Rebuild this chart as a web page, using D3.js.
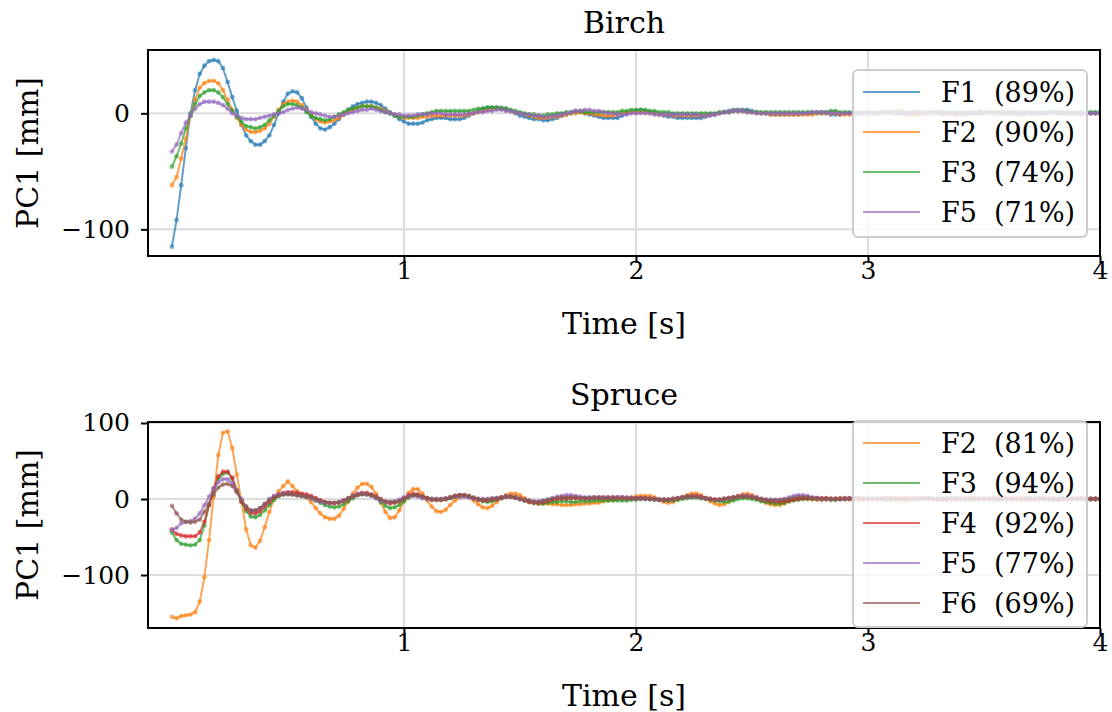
<!DOCTYPE html>
<html>
<head>
<meta charset="utf-8">
<script src="https://cdn.jsdelivr.net/npm/d3@7"></script>
<style>
body { margin: 0; background: #fff; }
text { font-family: "DejaVu Serif", serif; fill: #000; }
</style>
</head>
<body>
<div id="viz"></div>
<script>
// sample times, 50 Hz
var time = d3.range(201).map(function(i) { return i / 50; });

var xTicks = [1, 2, 3, 4];
var birchTicks = [0, -100];
var spruceTicks = [100, 0, -100];

// Birch, PC1 [mm]
var birchF1 = [
  -115,-92,-62,-30,0,20,34,41,45,46,
  45,39,27,14,2,-10,-19,-24,-27,-27,
  -24,-19,-10,0,10,17,19,18,13,5,
  -3,-9,-13,-14,-12,-9,-5,-1,3,6,
  8,9,10,10,9,7,4,1,-2,-5,
  -7,-9,-9,-9,-8,-6,-5,-4,-4,-4,
  -5,-5,-5,-4,-2,0,2,4,5,5,
  5,5,4,2,0,-2,-3,-4,-5,-5,
  -6,-6,-5,-4,-2,-1,0,1,1,0,
  -1,-2,-3,-4,-4,-4,-4,-2,0,1,
  2,3,2,1,0,-1,-2,-3,-3,-4,
  -4,-4,-4,-4,-4,-3,-2,-1,0,1,
  2,3,3,3,3,2,1,0,0,-1,
  -1,-1,-1,-1,-1,-1,0,0,0,0,
  0,0,-1,-1,-1,0,0,0,0,0,
  0,0,0,1,1,1,0,0,-1,-1,
  -1,0,0,0,1,1,0,0,0,-1,
  -1,-1,0,0,0,0,1,1,0,0,
  0,0,-1,-1,0,0,0,0,0,1,
  1,0,0,0,0,-1,-1,0,0,0,
  0];
var birchF2 = [
  -62,-55,-39,-22,-2,12,22,26,28,28,
  26,20,12,3,-4,-10,-14,-16,-16,-15,
  -13,-9,-3,3,8,10,11,10,7,3,
  -1,-5,-7,-8,-7,-6,-4,-1,1,3,
  5,6,6,6,5,4,2,0,-1,-3,
  -4,-4,-4,-4,-3,-3,-2,-2,-2,-2,
  -2,-2,-2,-2,-1,0,1,2,3,4,
  4,4,3,2,1,0,-1,-2,-3,-4,
  -4,-4,-3,-3,-2,-1,0,0,1,0,
  0,-1,-1,-2,-2,-2,-1,0,1,1,
  1,1,1,0,0,-1,-1,-1,-2,-2,
  -2,-2,-2,-2,-2,-2,-1,-1,0,1,
  1,2,2,2,1,1,0,0,0,-1,
  -1,-1,-1,-1,-1,-1,-1,-1,-1,0,
  0,0,0,0,-1,-1,-1,0,0,0,
  0,0,0,0,1,1,0,0,0,-1,
  -1,-1,0,0,0,1,1,0,0,0,
  -1,-1,0,0,0,0,0,1,0,0,
  0,0,0,-1,-1,0,0,0,0,0,
  0,1,0,0,0,0,-1,0,0,0,
  0];
var birchF3 = [
  -46,-37,-26,-13,-2,8,15,18,20,20,
  18,14,8,2,-3,-7,-11,-12,-13,-12,
  -10,-6,-2,2,6,8,8,7,5,1,
  -2,-4,-5,-6,-5,-3,-1,1,3,4,
  5,6,6,6,5,3,1,0,-2,-3,
  -3,-3,-3,-2,-1,0,1,2,2,2,
  2,2,2,2,2,3,4,4,5,5,
  5,4,4,3,2,1,0,-1,-1,-2,
  -2,-1,-1,0,0,1,1,2,2,1,
  1,1,1,1,1,1,1,2,2,3,
  3,3,3,2,2,1,1,1,0,0,
  0,0,0,0,0,0,0,0,1,1,
  1,2,2,2,2,1,1,1,1,1,
  1,1,1,1,1,1,1,1,1,1,
  1,1,2,2,1,1,1,1,1,1,
  1,1,1,1,1,1,2,2,1,1,
  1,1,1,1,1,1,1,1,1,1,
  1,1,1,1,2,1,1,1,1,1,
  1,1,1,1,1,1,1,1,1,1,
  1,1,1,1,1,1,1,1,1,1,
  1];
var birchF5 = [
  -33,-27,-17,-8,-2,4,8,10,10,10,
  9,7,4,0,-2,-4,-5,-5,-5,-4,
  -3,-2,-1,0,1,3,4,5,4,3,
  1,0,-1,-2,-3,-3,-2,-1,0,1,
  2,3,3,4,3,2,1,0,-1,-1,
  -2,-2,-2,-1,-1,-1,0,0,0,-1,
  -1,-1,-1,-1,0,0,1,1,2,2,
  3,3,2,2,1,0,-1,-1,-2,-2,
  -3,-3,-2,-2,-1,0,1,2,2,3,
  3,2,2,1,0,0,-1,-1,-1,0,
  0,0,0,0,-1,-1,-1,-1,-1,-1,
  -1,-1,-1,-1,-2,-2,-1,-1,0,1,
  1,2,2,2,1,1,0,0,0,0,
  0,0,0,0,0,0,0,0,1,1,
  1,1,0,0,0,0,0,0,0,0,
  0,0,0,0,0,0,0,0,0,0,
  1,1,0,0,0,0,-1,-1,0,0,
  0,0,0,0,0,0,0,0,0,0,
  0,1,1,0,0,0,0,0,0,0,
  0,0,0,0,0,0,0,0,0,0,
  0];

// Spruce, PC1 [mm]
var spruceF2 = [
  -155,-157,-154,-153,-152,-149,-135,-103,-54,3,
  58,87,89,67,32,-4,-40,-61,-64,-55,
  -37,-17,0,10,17,23,17,10,6,2,
  -4,-12,-19,-24,-26,-26,-22,-13,-3,7,
  15,20,20,16,7,-5,-17,-25,-24,-15,
  -3,8,13,13,7,-2,-10,-16,-17,-14,
  -8,-2,2,4,3,-2,-7,-11,-12,-9,
  -4,1,5,7,7,5,1,-2,-4,-6,
  -6,-6,-7,-7,-8,-8,-8,-7,-7,-6,
  -6,-5,-5,-3,-2,-1,0,0,1,2,
  3,4,4,4,2,-1,-4,-5,-4,-1,
  2,5,7,7,5,1,-3,-6,-8,-7,
  -4,0,4,6,7,5,2,-2,-5,-7,
  -8,-8,-6,-3,0,2,2,1,0,-1,
  -1,0,0,0,1,1,0,0,-1,-1,
  0,0,1,1,1,0,0,-1,-1,0,
  0,1,1,0,0,-1,-1,0,0,1,
  1,0,0,-1,0,0,1,1,0,0,
  -1,-1,0,0,1,0,0,0,-1,0,
  0,0,1,0,0,0,0,-1,0,0,
  0];
var spruceF3 = [
  -44,-54,-59,-60,-61,-60,-54,-35,-8,11,
  27,33,35,27,11,-4,-16,-23,-24,-21,
  -15,-8,-1,4,6,7,6,5,4,3,
  1,-2,-5,-8,-10,-11,-10,-7,-3,1,
  5,7,7,5,1,-4,-9,-12,-11,-8,
  -3,2,5,5,3,1,-1,-1,-1,0,
  1,3,4,4,3,1,-1,-3,-4,-3,
  -1,1,3,3,2,0,-2,-4,-5,-6,
  -6,-5,-4,-4,-3,-3,-4,-4,-3,-3,
  -3,-2,-2,-2,-2,-2,-2,-2,-2,-1,
  -1,0,0,0,-1,-1,-2,-2,-2,-1,
  0,1,2,2,1,0,-1,-2,-3,-4,
  -3,-2,0,1,1,0,-1,-3,-4,-5,
  -6,-6,-5,-3,-2,-1,0,0,0,0,
  0,0,-1,-1,0,0,0,0,0,0,
  0,0,0,0,-1,-1,0,0,0,0,
  0,0,0,0,0,0,-1,-1,0,0,
  0,0,0,0,0,0,0,0,-1,0,
  0,0,0,0,0,0,0,0,0,0,
  -1,-1,0,0,0,0,0,0,0,0,
  0];
var spruceF4 = [
  -40,-46,-48,-49,-49,-49,-44,-30,-8,14,
  30,36,36,28,11,-3,-13,-18,-19,-16,
  -10,-4,3,6,8,9,9,8,7,6,
  4,1,-2,-4,-5,-6,-5,-3,0,4,
  7,8,8,6,3,-1,-4,-6,-5,-3,
  1,5,7,6,3,1,-1,-1,-1,0,
  2,4,5,5,3,1,-1,-2,-2,-1,
  0,2,3,3,2,0,-2,-4,-5,-5,
  -4,-3,-1,0,1,1,1,1,1,1,
  1,2,2,2,2,2,2,2,1,1,
  1,1,1,0,0,-1,-1,-1,0,1,
  2,3,4,4,3,1,0,-1,-1,0,
  1,2,3,4,4,3,1,-1,-2,-3,
  -3,-4,-3,-2,-1,0,1,1,1,1,
  1,1,0,0,0,0,1,1,1,0,
  0,0,0,0,1,1,0,0,0,0,
  0,1,1,1,0,0,0,0,0,0,
  0,0,1,1,0,0,0,0,0,1,
  1,0,0,0,0,0,0,1,1,0,
  0,0,0,0,0,1,1,0,0,0,
  0];
var spruceF5 = [
  -41,-38,-32,-30,-29,-26,-19,-8,3,14,
  22,26,26,21,11,0,-10,-15,-15,-12,
  -6,0,4,6,7,7,6,5,4,3,
  1,-2,-4,-5,-6,-5,-4,-2,1,4,
  6,7,6,4,1,-2,-4,-4,-3,-1,
  2,4,4,3,1,0,0,0,0,1,
  2,3,3,3,2,1,0,0,0,1,
  1,2,3,3,2,0,-1,-2,-3,-3,
  -2,-1,1,3,4,5,5,4,3,2,
  2,2,2,2,2,2,2,2,2,1,
  1,1,0,0,0,-1,-1,-1,0,1,
  2,3,3,3,2,1,0,-1,-1,0,
  1,2,3,4,4,3,2,0,-1,-1,
  -1,-1,0,2,4,5,5,4,2,1,
  0,0,0,0,0,1,1,1,0,0,
  0,0,0,0,0,0,1,1,1,0,
  0,0,0,0,0,0,0,1,1,0,
  0,0,0,0,0,0,0,0,0,0,
  0,1,1,0,0,0,0,0,0,0,
  0,0,0,0,0,0,0,0,0,0,
  0];
var spruceF6 = [
  -9,-19,-27,-30,-31,-30,-27,-17,-6,6,
  15,19,20,17,9,-2,-10,-15,-15,-12,
  -7,-2,2,4,6,6,6,5,4,3,
  2,0,-2,-4,-5,-5,-4,-2,1,3,
  5,6,6,5,3,0,-3,-4,-4,-3,
  0,3,5,5,3,1,0,-1,-1,0,
  2,4,5,5,4,2,0,-1,-1,0,
  1,2,3,3,2,0,-1,-3,-4,-4,
  -3,-1,0,1,2,2,2,2,1,1,
  1,1,1,1,1,1,1,1,1,1,
  1,1,1,0,0,-1,-1,-1,0,1,
  2,3,3,3,2,1,0,-1,-1,0,
  1,2,3,3,3,2,1,0,-1,-2,
  -2,-2,-1,0,1,2,2,2,1,1,
  0,0,0,0,0,0,0,1,1,0,
  0,0,0,0,0,0,0,0,0,0,
  0,0,1,1,0,0,0,0,0,0,
  0,0,0,0,0,0,0,0,0,0,
  0,0,0,0,1,0,0,0,0,0,
  0,0,0,0,0,0,0,0,0,0,
  0];

var birchNames = ["F1", "F2", "F3", "F5"];
var birchPct = ["89%", "90%", "74%", "71%"];
var birchColors = ["#1f77b4", "#ff7f0e", "#2ca02c", "#9467bd"];
var birchValues = [birchF1, birchF2, birchF3, birchF5];

var spruceNames = ["F2", "F3", "F4", "F5", "F6"];
var sprucePct = ["81%", "94%", "92%", "77%", "69%"];
var spruceColors = ["#ff7f0e", "#2ca02c", "#d62728", "#9467bd", "#8c564b"];
var spruceValues = [spruceF2, spruceF3, spruceF4, spruceF5, spruceF6];

var W = 1112, H = 712;
var svg = d3.select("#viz").append("svg")
  .attr("width", W)
  .attr("height", H);

var left = 148, right = 1100;
var x = d3.scaleLinear().domain([-0.103, 4]).range([left, right]);

function panel(id, top, bottom, ydom, yticks, title, names, pcts, colors, values, legendBox) {
  var y = d3.scaleLinear().domain(ydom).range([bottom, top]);
  var g = svg.append("g").attr("id", id);

  g.append("clipPath").attr("id", id + "-clip")
    .append("rect")
    .attr("x", left).attr("y", top)
    .attr("width", right - left).attr("height", bottom - top);

  // grid
  g.selectAll(".gx").data(xTicks).enter().append("line")
    .attr("x1", function(d) { return x(d); })
    .attr("x2", function(d) { return x(d); })
    .attr("y1", top).attr("y2", bottom)
    .attr("stroke", "#dcdcdc").attr("stroke-width", 2);
  g.selectAll(".gy").data(yticks).enter().append("line")
    .attr("x1", left).attr("x2", right)
    .attr("y1", function(d) { return y(d); })
    .attr("y2", function(d) { return y(d); })
    .attr("stroke", "#dcdcdc").attr("stroke-width", 2);

  var line = d3.line()
    .x(function(d, i) { return x(time[i]); })
    .y(function(d) { return y(d); });

  var plot = g.append("g").attr("clip-path", "url(#" + id + "-clip)");
  values.forEach(function(v, k) {
    plot.append("path")
      .attr("d", line(v))
      .attr("fill", "none")
      .attr("stroke", colors[k])
      .attr("stroke-width", 2)
      .attr("stroke-opacity", 0.7);
    plot.selectAll(null).data(v).enter().append("circle")
      .attr("cx", function(d, i) { return x(time[i]); })
      .attr("cy", function(d) { return y(d); })
      .attr("r", 2.4)
      .attr("fill", colors[k])
      .attr("fill-opacity", 0.6);
  });

  // axes
  var xAxis = d3.axisBottom(x).tickValues(xTicks).tickSize(7).tickPadding(4)
    .tickFormat(d3.format("d"));
  var gx = g.append("g").attr("transform", "translate(0," + bottom + ")").call(xAxis);
  var yAxis = d3.axisLeft(y).tickValues(yticks).tickSize(7).tickPadding(11)
    .tickFormat(function(d) { return d < 0 ? "\u2212" + Math.abs(d) : d; });
  var gy = g.append("g").attr("transform", "translate(" + left + ",0)").call(yAxis);
  [gx, gy].forEach(function(a) {
    a.select(".domain").remove();
    a.selectAll("line").attr("stroke", "#000").attr("stroke-width", 2);
    a.selectAll("text").attr("font-family", "DejaVu Serif").attr("font-size", 25).attr("fill", "#000");
  });
  gx.selectAll("text").attr("y", 23).attr("dy", null);

  g.append("rect")
    .attr("x", left).attr("y", top)
    .attr("width", right - left).attr("height", bottom - top)
    .attr("fill", "none").attr("stroke", "#000").attr("stroke-width", 2);

  g.append("text").attr("x", (left + right) / 2).attr("y", top - 17)
    .attr("text-anchor", "middle").attr("font-size", 30).text(title);
  g.append("text").attr("x", (left + right) / 2).attr("y", bottom + 78)
    .attr("text-anchor", "middle").attr("font-size", 30).text("Time [s]");
  g.append("text")
    .attr("transform", "translate(38," + (top + bottom) / 2 + ") rotate(-90)")
    .attr("text-anchor", "middle").attr("font-size", 30).text("PC1 [mm]");

  // legend
  var lg = g.append("g");
  lg.append("rect")
    .attr("x", legendBox[0]).attr("y", legendBox[1])
    .attr("width", legendBox[2] - legendBox[0]).attr("height", legendBox[3] - legendBox[1])
    .attr("rx", 5)
    .attr("fill", "#fff").attr("fill-opacity", 0.8)
    .attr("stroke", "#cccccc").attr("stroke-width", 2);
  names.forEach(function(n, k) {
    var ly = legendBox[1] + 22 + k * 40;
    lg.append("line")
      .attr("x1", legendBox[0] + 10).attr("x2", legendBox[0] + 67)
      .attr("y1", ly).attr("y2", ly)
      .attr("stroke", colors[k]).attr("stroke-width", 2).attr("stroke-opacity", 0.7);
    lg.append("text")
      .attr("x", legendBox[0] + 88).attr("y", ly + 10)
      .attr("font-size", 27)
      .style("white-space", "pre")
      .text(n + "  (" + pcts[k] + ")");
  });
}

panel("birch", 50, 256, [-123, 54.6], birchTicks, "Birch",
  birchNames, birchPct, birchColors, birchValues, [853, 70, 1087, 237]);
panel("spruce", 422, 628, [-169.7, 101.3], spruceTicks, "Spruce",
  spruceNames, sprucePct, spruceColors, spruceValues, [853, 421, 1087, 627]);
</script>
</body>
</html>
